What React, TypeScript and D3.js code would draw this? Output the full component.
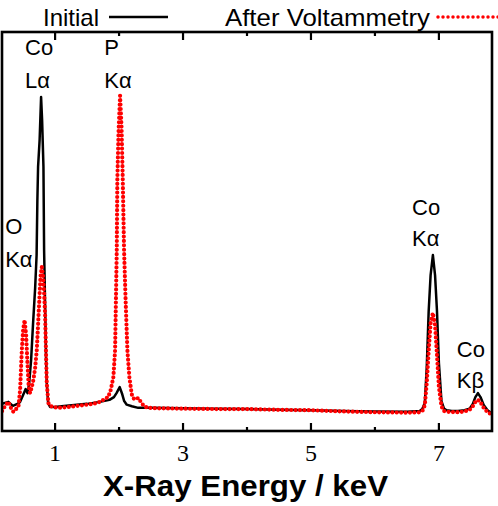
import React from 'react';
import * as d3 from 'd3';

// EDS spectra: photon energy (keV) and counts
const initialEnergy = [
  0.17, 0.27, 0.34, 0.41, 0.45, 0.5, 0.54, 0.57, 0.595, 0.625, 0.656, 0.688, 0.711, 0.723, 0.734,
  0.758, 0.781, 0.797, 0.818, 0.828, 0.844, 0.859, 0.87, 0.891, 0.922, 1.0, 1.1, 1.3, 1.5, 1.7,
  1.85, 1.92, 1.96, 2.01, 2.05, 2.08, 2.12, 2.2, 2.3, 2.5, 3.0, 3.5, 4.0, 4.5, 5.0, 5.5, 6.0, 6.5,
  6.7, 6.74, 6.78, 6.81, 6.84, 6.87, 6.906, 6.94, 6.97, 7.0, 7.04, 7.08, 7.12, 7.2, 7.3, 7.4, 7.48,
  7.53, 7.57, 7.61, 7.65, 7.7, 7.76, 7.82, 7.85,
];
const initialCounts = [
  68, 73, 63, 68, 72, 90, 105, 95, 120, 178, 271, 358, 441, 579, 662,
  729, 837, 779, 662, 454, 316, 178, 120, 70, 60, 60, 62, 65, 68, 73,
  78, 85, 95, 110, 92, 75, 66, 62, 58, 58, 57, 56, 55, 53, 52, 50, 49, 48,
  50, 55, 70, 160, 300, 390, 441, 390, 300, 170, 75, 56, 52, 50, 50, 52, 56,
  68, 85, 95, 85, 65, 52, 45, 43,
];

const afterEnergy = [
  0.172, 0.219, 0.27, 0.31, 0.348, 0.39, 0.427, 0.453, 0.48, 0.5, 0.523, 0.547, 0.567, 0.586, 0.609,
  0.633, 0.661, 0.688, 0.714, 0.734, 0.755, 0.773, 0.792, 0.813, 0.828, 0.844, 0.859, 0.87, 0.895,
  0.922, 0.973, 1.05, 1.2, 1.4, 1.6, 1.7, 1.83, 1.87, 1.911, 1.938, 1.964, 1.973, 1.992, 2.016,
  2.039, 2.058, 2.078, 2.102, 2.13, 2.161, 2.198, 2.234, 2.27, 2.3, 2.34, 2.39, 2.45, 2.6, 3.0, 3.5,
  4.0, 4.5, 5.0, 5.5, 6.0, 6.5, 6.7, 6.75, 6.78, 6.81, 6.84, 6.87, 6.906, 6.94, 6.97, 7.0, 7.04,
  7.08, 7.15, 7.3, 7.4, 7.48, 7.53, 7.57, 7.61, 7.65, 7.7, 7.76, 7.82, 7.85,
];
const afterCounts = [
  50, 63, 73, 58, 48, 55, 61, 103, 203, 253, 278, 241, 173, 115, 95,
  108, 128, 158, 203, 266, 333, 388, 411, 386, 348, 291, 190, 120, 70,
  63, 60, 58, 60, 64, 68, 73, 85, 103, 135, 203, 454, 629, 750, 840,
  760, 629, 454, 330, 203, 135, 92, 80, 80, 83, 73, 62, 58, 57, 56, 55,
  55, 53, 52, 49, 47, 46, 47, 52, 65, 120, 200, 270, 296, 265, 190, 110, 62,
  50, 48, 47, 49, 53, 62, 73, 78, 72, 58, 47, 42, 40,
];

const seriesNames = ['Initial', 'After Voltammetry'];
const majorTicks = [1, 3, 5, 7];
const minorTicks = [2, 4, 6];
const xTitle = 'X-Ray Energy / keV';

// Emission line annotations: element, line, anchor energy (keV)
const peakLabels = [
  { element: 'Co', line: 'L\u03b1', energy: 0.53 },
  { element: 'P', line: 'K\u03b1', energy: 1.77 },
  { element: 'O', line: 'K\u03b1', energy: 0.22 },
  { element: 'Co', line: 'K\u03b1', energy: 6.58 },
  { element: 'Co', line: 'K\u03b2', energy: 7.28 },
];

const W = 498;
const H = 506;
const plot = { left: 2, right: 492, top: 32, bottom: 431 };
// baselines of the two text lines for each annotation
const labelRows: [number, number][] = [
  [55, 88],
  [55, 88],
  [234, 267],
  [215, 246],
  [357, 388],
];

const RED = '#ff0000';
const SANS = 'Arial, "Liberation Sans", sans-serif';
const SERIF = '"Times New Roman", "Liberation Serif", serif';

export default function App() {
  React.useEffect(() => {
    document.body.style.margin = '0';
  }, []);

  const x = d3.scaleLinear().domain([0.17, 7.83]).range([plot.left, plot.right]);
  const y = d3.scaleLinear().domain([0, 1000]).range([plot.bottom, plot.top]);

  const line = d3
    .line<[number, number]>()
    .x((d) => x(d[0]))
    .y((d) => y(d[1]));

  const initialPts = initialEnergy.map((e, i) => [e, initialCounts[i]] as [number, number]);
  const afterPts = afterEnergy.map((e, i) => [e, afterCounts[i]] as [number, number]);

  return (
    <svg
      width={W}
      height={H}
      style={{ position: 'absolute', left: 0, top: 0, display: 'block', background: '#fff' }}
    >
      <defs>
        <clipPath id="plotArea">
          <rect x={plot.left} y={plot.top} width={plot.right - plot.left} height={plot.bottom - plot.top} />
        </clipPath>
      </defs>

      {/* legend */}
      <text x={43} y={26} fontFamily={SANS} fontSize={24} fill="#000">
        {seriesNames[0]}
      </text>
      <line x1={109} x2={168} y1={17} y2={17} stroke="#000" strokeWidth={2.5} />
      <text x={225} y={26} fontFamily={SANS} fontSize={24} textLength={205} lengthAdjust="spacingAndGlyphs" fill="#000">
        {seriesNames[1]}
      </text>
      <line
        x1={438}
        x2={500}
        y1={17}
        y2={17}
        stroke={RED}
        strokeWidth={3.5}
        strokeLinecap="round"
        strokeDasharray="0 5"
      />

      {/* spectra */}
      <g clipPath="url(#plotArea)">
        <path d={line(initialPts) || ''} fill="none" stroke="#000" strokeWidth={2.5} strokeLinejoin="round" />
        <path
          d={line(afterPts) || ''}
          fill="none"
          stroke={RED}
          strokeWidth={4.2}
          strokeLinecap="round"
          strokeLinejoin="round"
          strokeDasharray="0 4.4"
        />
      </g>

      {/* peak annotations */}
      {peakLabels.map((p, i) => (
        <g key={i} fontFamily={SANS} fontSize={22} fill="#000">
          <text x={x(p.energy)} y={labelRows[i][0]}>
            {p.element}
          </text>
          <text x={x(p.energy)} y={labelRows[i][1]}>
            {p.line}
          </text>
        </g>
      ))}

      {/* frame */}
      <rect
        x={plot.left}
        y={plot.top}
        width={plot.right - plot.left}
        height={plot.bottom - plot.top}
        fill="none"
        stroke="#000"
        strokeWidth={2.6}
      />

      {/* ticks, inward on bottom and top */}
      {majorTicks.map((t) => (
        <g key={'M' + t} stroke="#000" strokeWidth={2.2}>
          <line x1={x(t)} x2={x(t)} y1={plot.bottom} y2={plot.bottom - 8} />
          <line x1={x(t)} x2={x(t)} y1={plot.top} y2={plot.top + 8} />
        </g>
      ))}
      {minorTicks.map((t) => (
        <g key={'m' + t} stroke="#000" strokeWidth={2.2}>
          <line x1={x(t)} x2={x(t)} y1={plot.bottom} y2={plot.bottom - 4} />
          <line x1={x(t)} x2={x(t)} y1={plot.top} y2={plot.top + 4} />
        </g>
      ))}
      {majorTicks.map((t) => (
        <text key={'l' + t} x={x(t)} y={461} textAnchor="middle" fontFamily={SERIF} fontSize={24} fill="#000">
          {t}
        </text>
      ))}

      {/* axis title */}
      <text
        x={103}
        y={496}
        fontFamily={SANS}
        fontWeight="bold"
        fontSize={29}
        textLength={285}
        lengthAdjust="spacingAndGlyphs"
        fill="#000"
      >
        {xTitle}
      </text>
    </svg>
  );
}
